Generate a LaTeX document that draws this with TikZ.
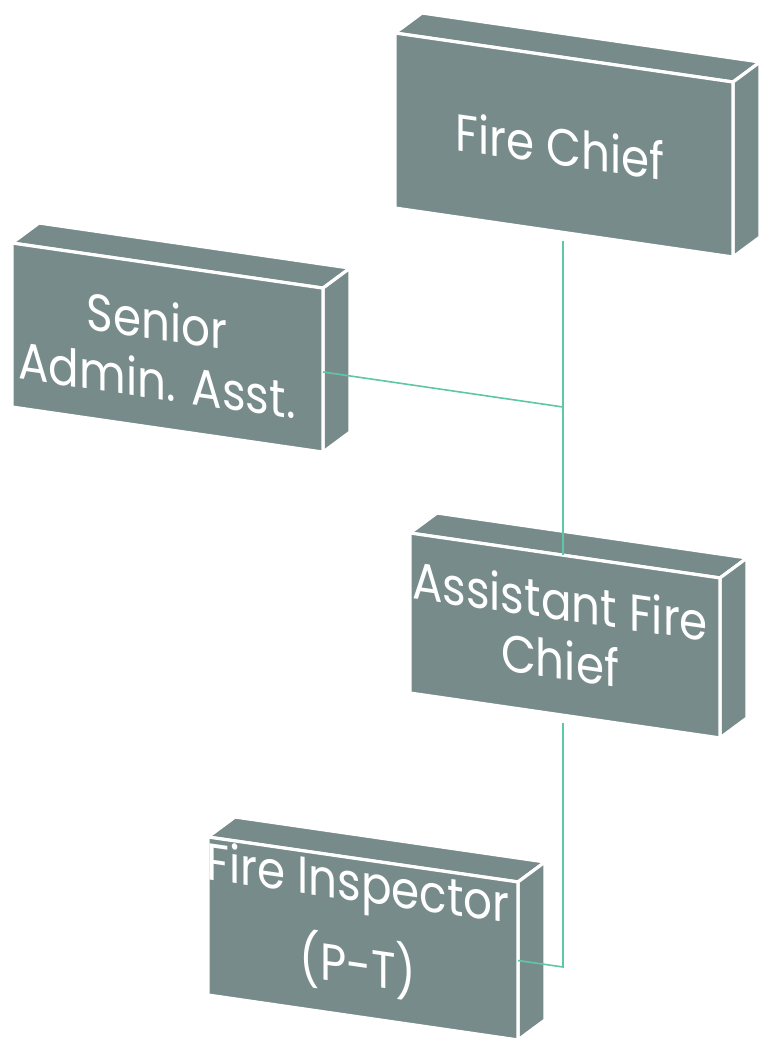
\documentclass[tikz,border=0pt]{standalone}
\usepackage{fontspec}
\setmainfont{Poppins}[FakeStretch=0.87]
\usetikzlibrary{calc}
\definecolor{boxgray}{HTML}{788B8B}
\definecolor{linkgreen}{HTML}{5EC7A6}
\tikzset{
  face/.style={fill=boxgray, draw=white, line width=3.2pt, line join=round},
  boxtext/.style={text=white, align=center, inner sep=0pt,
    font=\fontsize{52}{59}\selectfont, yslant=-0.145},
  link/.style={draw=linkgreen, line width=1.6pt}
}
\newcommand\isobox[5]{%
  \coordinate (#1-tl) at (#2,#3);
  \coordinate (#1-tr) at ({#2+#4},{#3+0.145*#4});
  \coordinate (#1-br) at ({#2+#4},{#3+0.145*#4+#5});
  \coordinate (#1-bl) at (#2,{#3+#5});
  \filldraw[face] (#1-tl) -- ($(#1-tl)+(27,-20)$) -- ($(#1-tr)+(27,-20)$) -- (#1-tr) -- cycle;
  \filldraw[face] (#1-tr) -- ($(#1-tr)+(27,-20)$) -- ($(#1-br)+(27,-20)$) -- (#1-br) -- cycle;
  \filldraw[face] (#1-tl) -- (#1-tr) -- (#1-br) -- (#1-bl) -- cycle;
}
\begin{document}
\begin{tikzpicture}[x=1pt,y=-1pt]
\useasboundingbox (0,0) rectangle (760,1042);
\fill[white] (0,0) rectangle (760,1042);
% boxes
\isobox{b1}{395}{33}{338}{175}
\isobox{b2}{12}{243}{311}{164}
\isobox{b3}{410}{533}{310}{160}
\isobox{b4}{208}{837}{310}{158}
% texts
\node[boxtext] (fc) at (560,146) {Fire Chief};
\node[boxtext] (saa) at (157,350) {Senior\\Admin. Asst.};
\node[boxtext] (afc) at (560,630) {Assistant Fire\\Chief};
\node[boxtext] (fi) at (358,928) {Fire Inspector\\[20pt](P-T)};
% connector points
\coordinate (fc-out) at (563,241);
\coordinate (junc) at (563,407);
\coordinate (saa-in) at (323,372);
\coordinate (afc-in) at (563,555);
\coordinate (afc-out) at (563,723);
\coordinate (elbow) at (563,967);
\coordinate (fi-in) at (518,960.5);
% connectors
\draw[link] (fc-out) -- (afc-in);
\draw[link] (saa-in) -- (junc);
\draw[link] (afc-out) -- (elbow) -- (fi-in);
\end{tikzpicture}
\end{document}
